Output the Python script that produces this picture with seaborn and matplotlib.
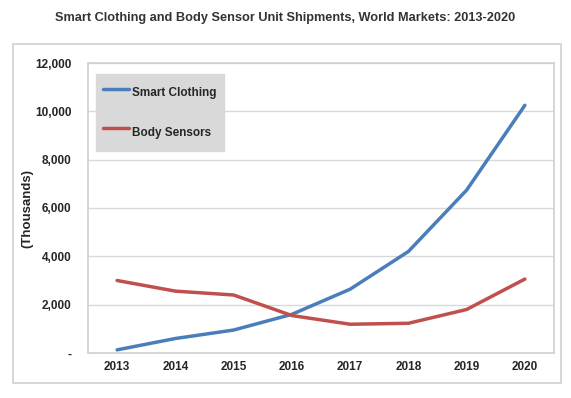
import pandas as pd
import seaborn as sns
import matplotlib.pyplot as plt
from matplotlib.patches import Rectangle
from matplotlib.ticker import FuncFormatter

years = [2013, 2014, 2015, 2016, 2017, 2018, 2019, 2020]
smart_clothing = [130, 600, 950, 1600, 2640, 4200, 6740, 10250]
body_sensors = [3000, 2560, 2400, 1550, 1190, 1230, 1800, 3060]

df = pd.DataFrame({
    "year": years * 2,
    "units": smart_clothing + body_sensors,
    "series": ["Smart Clothing"] * len(years) + ["Body Sensors"] * len(years),
})

sns.set_style("white")
plt.rcParams["font.family"] = ["Liberation Sans", "DejaVu Sans"]

fig = plt.figure(figsize=(5.71, 3.98), dpi=100)
ax = fig.add_axes([88 / 571, 45 / 398, 466 / 571, 290 / 398])

sns.lineplot(data=df, x="year", y="units", hue="series", ax=ax,
             palette={"Smart Clothing": "#4a7ebb", "Body Sensors": "#c0504d"},
             linewidth=2.5)

ax.set_xlim(2012.5, 2020.5)
ax.set_ylim(0, 12000)
ax.set_xticks(years)
ax.set_yticks(range(0, 12001, 2000))
ax.yaxis.set_major_formatter(FuncFormatter(lambda v, p: "-" if v == 0 else f"{int(v):,}"))
ax.grid(axis="y", color="#d9d9d9", linewidth=1)
ax.set_axisbelow(True)
for s in ax.spines.values():
    s.set_color("#d0d0d0")
    s.set_linewidth(1.2)
ax.tick_params(axis="both", length=0, labelsize=8.5)
ax.tick_params(axis="y", pad=12)
ax.tick_params(axis="x", pad=6)
for lab in ax.get_xticklabels() + ax.get_yticklabels():
    lab.set_fontweight("bold")
ax.set_xlabel("")
ax.set_ylabel("(Thousands)", fontsize=9.5, fontweight="bold", labelpad=1)

leg = ax.legend(loc="upper left", bbox_to_anchor=(0.017, 0.962), borderaxespad=0,
                frameon=True, fancybox=False, facecolor="#d9d9d9", edgecolor="#d9d9d9",
                framealpha=1, prop={"weight": "bold", "size": 8.5},
                handlelength=2.2, handleheight=2.7, handletextpad=0.25,
                labelspacing=1.35, borderpad=0.6)

fig.suptitle("Smart Clothing and Body Sensor Unit Shipments, World Markets: 2013-2020",
             x=0.5, y=0.97, fontsize=9.2, fontweight="bold", color="#333333")
fig.patches.append(Rectangle((13 / 571, 15 / 398), 548 / 571, 339 / 398,
                             transform=fig.transFigure, fill=False,
                             edgecolor="#d0d0d0", linewidth=1.2))

fig.savefig("out.png", dpi=100)
